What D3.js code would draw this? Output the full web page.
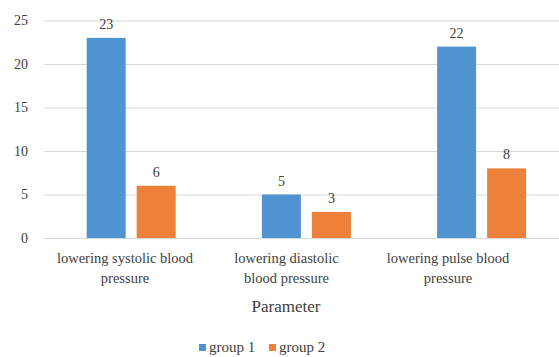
<!DOCTYPE html>
<html>
<head>
<meta charset="UTF-8">
<script src="https://d3js.org/d3.v7.min.js"></script>
<style>
  * { margin: 0; padding: 0; }
  body { background: #fff; }
</style>
</head>
<body>
<div id="chart"></div>
<script>
  const categories = ["lowering systolic blood pressure", "lowering diastolic blood pressure", "lowering pulse blood pressure"];
  const categoryLines = [["lowering systolic blood", "pressure"], ["lowering diastolic", "blood pressure"], ["lowering pulse blood", "pressure"]];
  const groups = ["group 1", "group 2"];
  const group1 = [23, 5, 22];
  const group2 = [6, 3, 8];
  const yTicks = [0, 5, 10, 15, 20, 25];
  const colors = ["#4f94d0", "#ee8139"];

  const FONT = "Liberation Serif, Times New Roman, serif";
  const W = 559, H = 357;
  const svg = d3.select("#chart").append("svg")
    .attr("width", W).attr("height", H);

  const data = categories.map((c, i) => ({cat: c, values: [group1[i], group2[i]]}));

  const y = d3.scaleLinear().domain([0, 25]).range([238, 20.5]);

  const x0 = d3.scaleBand().domain(categories)
    .range([43.6, 569.2])
    .paddingInner(0.492).paddingOuter(0.246);
  const x1 = d3.scaleBand().domain(groups)
    .range([0, x0.bandwidth()])
    .paddingInner(0.22);

  // label positions in the picture sit a bit left of the bar groups
  const xLabel = d3.scalePoint().domain(categories).range([125, 448]);

  // grid
  svg.append("g")
    .attr("transform", "translate(44,0)")
    .call(d3.axisLeft(y).tickValues(yTicks).tickSize(-(W - 44)).tickFormat(""))
    .call(g => g.select(".domain").remove())
    .selectAll("line").attr("stroke", "#d9d9d9").attr("stroke-width", 1);

  // y labels
  svg.append("g")
    .attr("transform", "translate(44,0)")
    .call(d3.axisLeft(y).tickValues(yTicks).tickSize(0).tickPadding(16))
    .call(g => g.select(".domain").remove())
    .attr("font-family", FONT)
    .attr("font-size", 14)
    .selectAll("text")
    .attr("fill", "#404040");

  const cg = svg.selectAll(".cat").data(data).enter().append("g")
    .attr("transform", d => `translate(${x0(d.cat)},0)`);

  cg.selectAll("rect")
    .data(d => d.values.map((v, j) => ({g: groups[j], v, j})))
    .enter().append("rect")
    .attr("x", d => x1(d.g))
    .attr("y", d => y(d.v))
    .attr("width", x1.bandwidth())
    .attr("height", d => y(0) - y(d.v))
    .attr("fill", d => colors[d.j]);

  cg.selectAll(".val")
    .data(d => d.values.map((v, j) => ({g: groups[j], v, j})))
    .enter().append("text")
    .attr("x", d => x1(d.g) + x1.bandwidth() / 2)
    .attr("y", d => y(d.v) - 9)
    .attr("text-anchor", "middle")
    .attr("font-family", FONT)
    .attr("font-size", 14)
    .attr("fill", "#404040")
    .text(d => d.v);

  // category labels
  const lab = svg.selectAll(".clab").data(categories).enter().append("text")
    .attr("text-anchor", "middle")
    .attr("font-family", FONT)
    .attr("font-size", 14.5)
    .attr("fill", "#404040");
  lab.each(function(d, i) {
    d3.select(this).selectAll("tspan").data(categoryLines[i]).enter().append("tspan")
      .attr("x", xLabel(d))
      .attr("y", (t, k) => 263 + k * 20)
      .text(t => t);
  });

  svg.append("text")
    .attr("x", 286).attr("y", 312)
    .attr("text-anchor", "middle")
    .attr("font-family", FONT)
    .attr("font-size", 17)
    .attr("fill", "#404040")
    .text("Parameter");

  // legend
  const legX = d3.scalePoint().domain(groups).range([199, 269]);
  const leg = svg.selectAll(".leg").data(groups).enter().append("g")
    .attr("transform", d => `translate(${legX(d)},344)`);
  leg.append("rect").attr("width", 7).attr("height", 7).attr("fill", (d, i) => colors[i]);
  leg.append("text").attr("x", 10).attr("y", 8)
    .attr("font-family", FONT)
    .attr("font-size", 15)
    .attr("fill", "#404040")
    .text(d => d);
</script>
</body>
</html>
